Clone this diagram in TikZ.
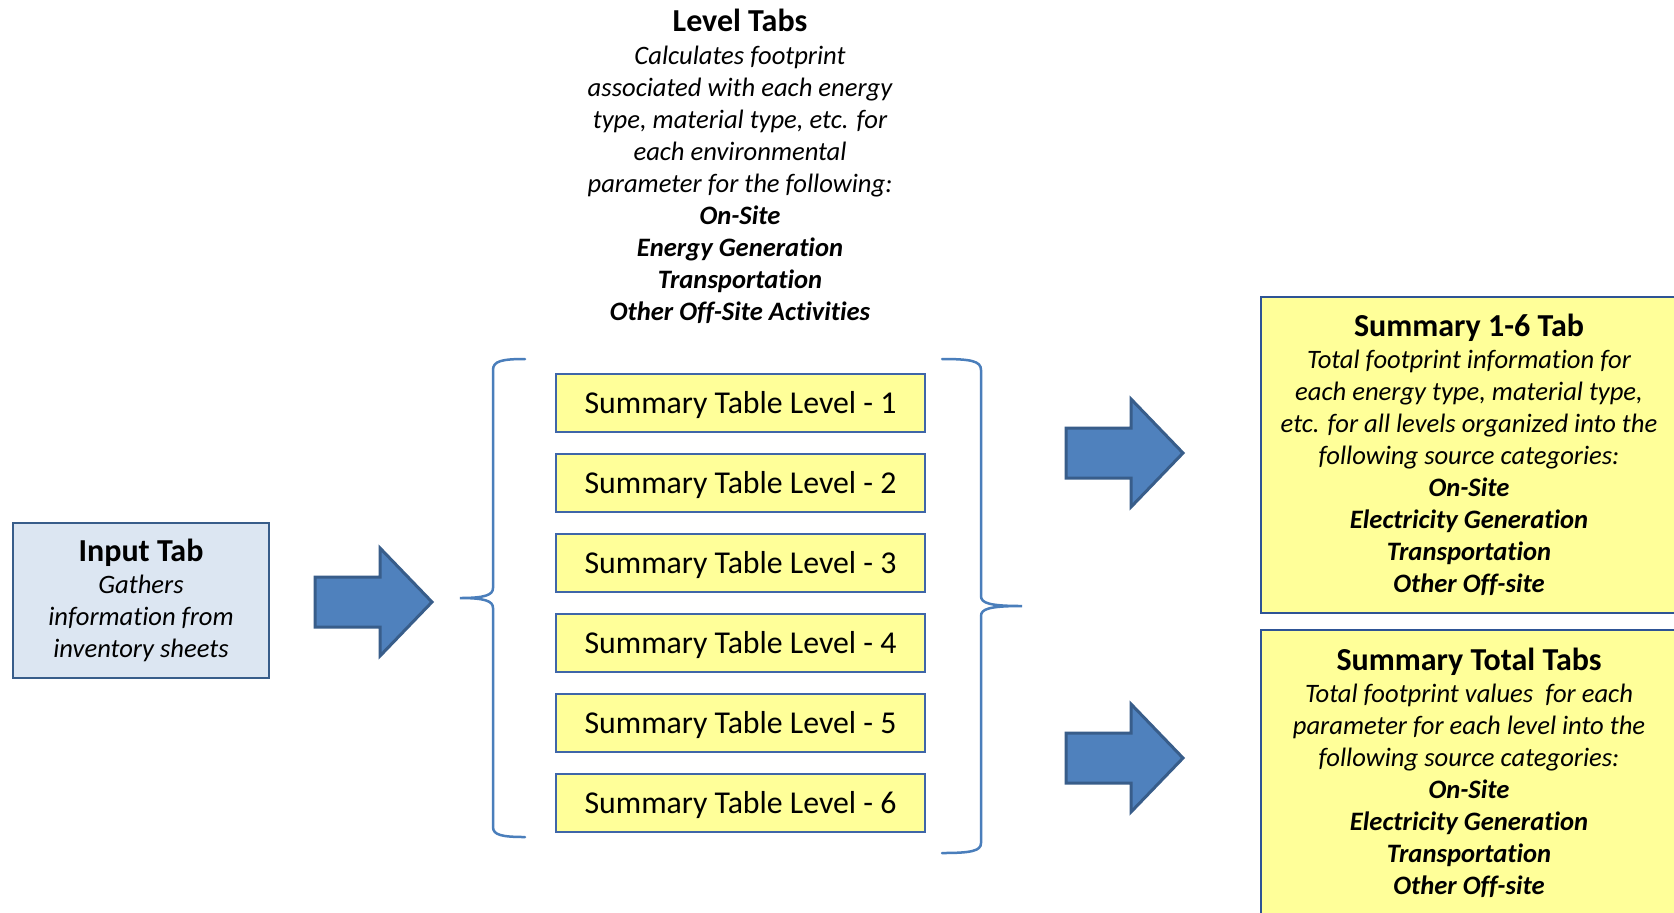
\documentclass[tikz,border=0pt]{standalone}
\usepackage{fontspec}
\setmainfont{Carlito}[Ligatures={NoCommon,NoRare,NoContextual}]
\definecolor{arrowfill}{HTML}{4F81BD}
\definecolor{arrowline}{HTML}{385D8A}
\definecolor{inputfill}{HTML}{DCE6F2}
\definecolor{inputline}{HTML}{385D8A}
\definecolor{tablefill}{HTML}{FFFF99}
\definecolor{tableline}{HTML}{3F66A8}
\definecolor{sumline}{HTML}{2E5495}
\definecolor{braceline}{HTML}{4A7EBB}
\begin{document}
\begin{tikzpicture}[x=0.5pt,y=-0.5pt,
  every node/.style={inner sep=0pt, outer sep=0pt},
  bodyfont/.style={font=\fontsize{13.3}{16}\selectfont, align=center},
  levelbox/.style={draw=tableline, fill=tablefill, line width=1pt,
    minimum width=184.5pt, minimum height=29pt,
    text height=11.5pt, text depth=0.8pt,
    font=\fontsize{15.9}{18}\selectfont},
  inbox/.style={draw=inputline, fill=inputfill, line width=1pt,
    minimum width=128pt, minimum height=77.5pt, bodyfont},
  sumbox/.style={draw=sumline, fill=tablefill, line width=1pt,
    minimum width=208pt, bodyfont},
  bracestyle/.style={draw=braceline, line width=1.25pt, line cap=round},
  blockarrow/.pic={
    \draw[fill=arrowfill, draw=arrowline, line width=1.5pt, line join=miter]
      (0,-25) -- (65,-25) -- (65,-54) -- (117,0) -- (65,54) -- (65,25)
      -- (0,25) -- cycle;
  },
]
\clip (0,0) rectangle (1674,912);
\fill[white] (0,0) rectangle (1674,912);

% title and description of the level tabs
\node[bodyfont] (leveltext) at (740,166) {%
  {\fontsize{16}{16}\selectfont\bfseries Level Tabs}\\[0.5pt]
  \itshape Calculates footprint\\
  \itshape associated with each energy\\
  \itshape type, material type, etc. for\\
  \itshape each environmental\\
  \itshape parameter for the following:\\
  \bfseries\itshape On-Site\\
  \bfseries\itshape Energy Generation\\
  \bfseries\itshape Transportation\\
  \bfseries\itshape Other Off-Site Activities};

% input tab
\node[inbox] (input) at (141,600.5) {%
  {\fontsize{16}{16}\selectfont\bfseries Input Tab}\\
  \itshape Gathers\\
  \itshape information from\\
  \itshape inventory sheets};

% the six level tables
\foreach \i in {1,...,6}{
  \node[levelbox] (lv\i) at (740.5,{403+80*(\i-1)}) {Summary Table Level - \i};
}

% summary boxes on the right
\node[sumbox, minimum height=158pt] (sum16) at (1469,455) {%
  {\fontsize{16}{16}\selectfont\bfseries Summary 1-6 Tab}\\
  \itshape Total footprint information for\\
  \itshape each energy type, material type,\\
  \itshape etc. for all levels organized into the\\
  \itshape following source categories:\\
  \bfseries\itshape On-Site\\
  \bfseries\itshape Electricity Generation\\
  \bfseries\itshape Transportation\\
  \bfseries\itshape Other Off-site};

\node[sumbox, minimum height=143.5pt] (sumtot) at (1469,773) {%
  {\fontsize{16}{16}\selectfont\bfseries Summary Total Tabs}\\
  \itshape Total footprint values\ \ for each\\
  \itshape parameter for each level into the\\
  \itshape following source categories:\\
  \bfseries\itshape On-Site\\
  \bfseries\itshape Electricity Generation\\
  \bfseries\itshape Transportation\\
  \bfseries\itshape Other Off-site};

% braces grouping the level tables
\coordinate (ltip) at (460,598);
\coordinate (rtip) at (1022,606);
\draw[bracestyle] (525,359) .. controls (502,359) and (493,361) .. (493,370)
  -- (493,588) .. controls (493,595) and (485,598) .. (ltip)
  .. controls (485,598) and (493,601) .. (493,608)
  -- (493,827) .. controls (493,835) and (502,837) .. (525,837);
\draw[bracestyle] (942,359) .. controls (971,359) and (981,361) .. (981,370)
  -- (981,596) .. controls (981,603) and (989,606) .. (rtip)
  .. controls (989,606) and (981,609) .. (981,616)
  -- (981,843) .. controls (981,851) and (971,853) .. (942,853);

% block arrows
\pic at (315,602) {blockarrow};
\pic at (1066,453) {blockarrow};
\pic at (1066,758) {blockarrow};
\end{tikzpicture}
\end{document}
